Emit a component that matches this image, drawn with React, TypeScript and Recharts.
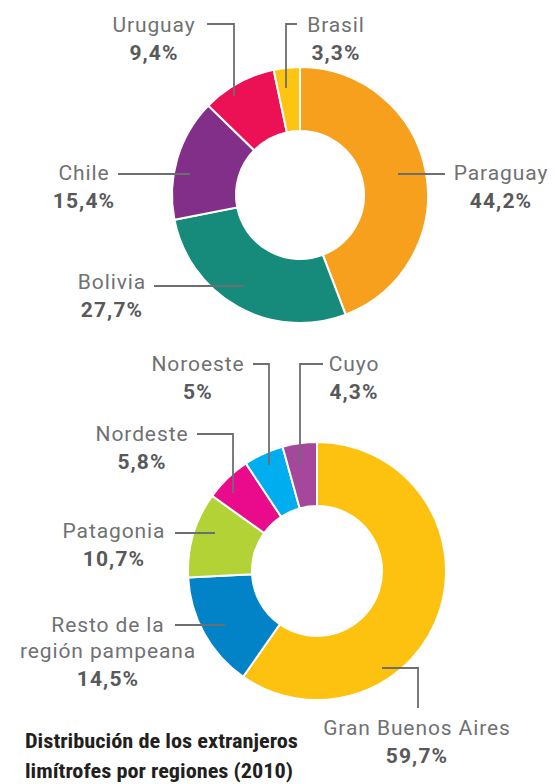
import { PieChart, Pie, Cell } from "recharts";

// origen de los extranjeros limítrofes (%)
const ORIGIN_NAMES = ["Paraguay", "Bolivia", "Chile", "Uruguay", "Brasil"];
const ORIGIN_SHARES = [44.2, 27.7, 15.4, 9.4, 3.3];
const ORIGIN_COLORS = ["#f6a01e", "#178b7b", "#822f8a", "#ec1155", "#fdc512"];

// distribución por regiones (%)
const REGION_NAMES = [
  "Gran Buenos Aires",
  "Resto de la\nregión pampeana",
  "Patagonia",
  "Nordeste",
  "Noroeste",
  "Cuyo",
];
const REGION_SHARES = [59.7, 14.5, 10.7, 5.8, 5, 4.3];
const REGION_COLORS = ["#fdc20f", "#0282c7", "#b2d236", "#ea0a8c", "#00adee", "#a5479b"];

const TITLE_LINES = ["Distribución de los extranjeros", "limítrofes por regiones (2010)"];

type Pt = [number, number];
type LabelPos = { x: number; y: number; lead: Pt[] };

// label placement (text centre / first baseline) and leader routes
const ORIGIN_LABELS: LabelPos[] = [
  { x: 501, y: 180, lead: [[445, 174], [398, 174]] },
  { x: 112, y: 289, lead: [[154, 286], [244, 286]] },
  { x: 84, y: 180, lead: [[118, 174], [190, 174]] },
  { x: 154, y: 32, lead: [[207, 24], [234, 24], [234, 96]] },
  { x: 336, y: 32, lead: [[297, 24], [286, 24], [286, 88]] },
];
const REGION_LABELS: LabelPos[] = [
  { x: 417, y: 735, lead: [[382, 668], [418, 668], [418, 708]] },
  { x: 108, y: 632, lead: [[175, 625], [225, 625]] },
  { x: 114, y: 538, lead: [[175, 533], [215, 533]] },
  { x: 142, y: 441, lead: [[197, 434], [233, 434], [233, 493]] },
  { x: 198, y: 371, lead: [[253, 364], [269, 364], [269, 465]] },
  { x: 354, y: 371, lead: [[323, 364], [300, 364], [300, 463]] },
];

const NAME_COLOR = "#707173";
const PCT_COLOR = "#58595b";
const FONT = "Roboto, 'Noto Sans', sans-serif";

const fmt = (v: number) => `${String(v).replace(".", ",")}%`;

const toData = (names: string[], shares: number[]) =>
  names.map((name, i) => ({ name, value: shares[i] }));

const makeLabel = (layout: LabelPos[]) => (props: any) => {
  const pos = layout[props.index];
  if (!pos) return null;
  const lines = String(props.name).split("\n");
  const pctY = pos.y + (lines.length - 1) * 26 + 28;
  return (
    <g key={`lbl-${props.index}`}>
      <polyline
        points={pos.lead.map((p) => p.join(",")).join(" ")}
        fill="none"
        stroke="#6d6e70"
        strokeWidth={1.8}
      />
      {lines.map((ln, i) => (
        <text
          key={i}
          x={pos.x}
          y={pos.y + i * 26}
          textAnchor="middle"
          fill={NAME_COLOR}
          fontFamily={FONT}
          fontSize={21}
          letterSpacing={0.9}
        >
          {ln}
        </text>
      ))}
      <text
        x={pos.x}
        y={pctY}
        textAnchor="middle"
        fill={PCT_COLOR}
        fontFamily={FONT}
        fontSize={21}
        fontWeight={700}
        letterSpacing={1.1}
      >
        {fmt(props.value)}
      </text>
    </g>
  );
};

export default function App() {
  const origin = toData(ORIGIN_NAMES, ORIGIN_SHARES);
  const regions = toData(REGION_NAMES, REGION_SHARES);

  return (
    <div style={{ position: "absolute", left: 0, top: 0, width: 555, height: 784, background: "#fff" }}>
      <PieChart width={555} height={784} margin={{ top: 0, right: 0, bottom: 0, left: 0 }}>
        <Pie
          data={origin}
          dataKey="value"
          nameKey="name"
          cx={300}
          cy={195}
          innerRadius={64}
          outerRadius={128}
          startAngle={90}
          endAngle={-270}
          stroke="#ffffff"
          strokeWidth={2}
          label={makeLabel(ORIGIN_LABELS)}
          labelLine={false}
          isAnimationActive={false}
        >
          {origin.map((d, i) => (
            <Cell key={d.name} fill={ORIGIN_COLORS[i]} />
          ))}
        </Pie>
        <Pie
          data={regions}
          dataKey="value"
          nameKey="name"
          cx={317}
          cy={571}
          innerRadius={65}
          outerRadius={129}
          startAngle={90}
          endAngle={-270}
          stroke="#ffffff"
          strokeWidth={2}
          label={makeLabel(REGION_LABELS)}
          labelLine={false}
          isAnimationActive={false}
        >
          {regions.map((d, i) => (
            <Cell key={d.name} fill={REGION_COLORS[i]} />
          ))}
        </Pie>
      </PieChart>
      <svg width={555} height={784} style={{ position: "absolute", left: 0, top: 0, pointerEvents: "none" }}>
        {TITLE_LINES.map((t, i) => (
          <text
            key={t}
            x={25}
            y={748 + i * 30}
            fill="#231f20"
            fontFamily="'Roboto Condensed', 'Liberation Sans Narrow', Roboto, sans-serif"
            fontSize={21}
            fontWeight={700}
            textLength={i === 0 ? 273 : 268}
            lengthAdjust="spacingAndGlyphs"
          >
            {t}
          </text>
        ))}
      </svg>
    </div>
  );
}
